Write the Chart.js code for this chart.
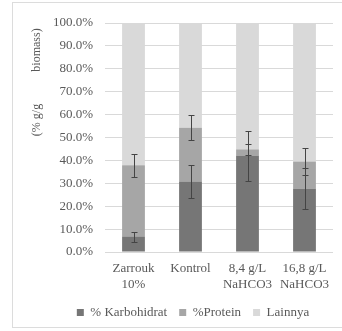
<!DOCTYPE html>
<html>
<head>
<meta charset="utf-8">
<script src="https://cdn.jsdelivr.net/npm/chart.js@4/dist/chart.umd.min.js"></script>
<style>
  html, body { margin: 0; padding: 0; background: #fff; }
  #wrap { position: relative; width: 342px; height: 331px; overflow: hidden; }
  #frame { position: absolute; left: 12px; top: 2px; width: 340px; height: 326px; border: 1px solid #dcdcdc; box-sizing: border-box; }
  #c { position: absolute; left: 0; top: 0; }
</style>
</head>
<body>
<div id="wrap">
  <div id="frame"></div>
  <canvas id="c" width="342" height="331"></canvas>
</div>
<script>
// Composition of biomass per medium (% g/g biomass)
const categories = [["Zarrouk", "10%"], ["Kontrol"], ["8,4 g/L", "NaHCO3"], ["16,8 g/L", "NaHCO3"]];
const karbohidrat = [6.6, 30.8, 42.0, 27.6];
const protein = [31.3, 23.5, 2.8, 11.9];
const lainnya = [62.1, 45.7, 55.2, 60.5];
const karbohidratErr = [2.2, 7.2, 11.0, 9.0];
const proteinErr = [5.0, 5.6, 2.5, 5.7];
const yTicks = [0, 10, 20, 30, 40, 50, 60, 70, 80, 90, 100];

const serif = "'Liberation Serif', 'Times New Roman', serif";
const textColor = "#595959";

// Error bars for the stacked carbohydrate and protein segments
const errorBars = {
  id: "errorBars",
  afterDatasetsDraw(chart) {
    const ctx = chart.ctx;
    const y = chart.scales.y;
    const meta = chart.getDatasetMeta(0);
    ctx.save();
    ctx.strokeStyle = "#444";
    ctx.lineWidth = 1;
    const cap = 3;
    const draw = (x, center, err) => {
      const yt = Math.round(y.getPixelForValue(center + err)) + 0.5;
      const yb = Math.round(y.getPixelForValue(center - err)) + 0.5;
      const xc = Math.round(x) + 0.5;
      ctx.beginPath();
      ctx.moveTo(xc, yt); ctx.lineTo(xc, yb);
      ctx.moveTo(xc - cap, yt); ctx.lineTo(xc + cap, yt);
      ctx.moveTo(xc - cap, yb); ctx.lineTo(xc + cap, yb);
      ctx.stroke();
    };
    meta.data.forEach((bar, i) => {
      draw(bar.x, karbohidrat[i], karbohidratErr[i]);
      draw(bar.x, karbohidrat[i] + protein[i], proteinErr[i]);
    });
    ctx.restore();
  }
};

// Rotated y-axis title
const yTitle = {
  id: "yTitle",
  afterDraw(chart) {
    const ctx = chart.ctx;
    const a = chart.chartArea;
    ctx.save();
    ctx.fillStyle = textColor;
    ctx.font = "12px " + serif;
    ctx.textAlign = "center";
    ctx.textBaseline = "middle";
    ctx.translate(37, 0);
    ctx.rotate(-Math.PI / 2);
    ctx.fillText("biomass)", -(a.top + 27), 0);
    ctx.fillText("(% g/g", -(a.top + 97), 0);
    ctx.restore();
  }
};

new Chart(document.getElementById("c"), {
  type: "bar",
  data: {
    labels: categories,
    datasets: [
      { label: "% Karbohidrat", data: karbohidrat, backgroundColor: "#767676" },
      { label: "%Protein", data: protein, backgroundColor: "#a6a6a6" },
      { label: "Lainnya", data: lainnya, backgroundColor: "#d9d9d9" }
    ]
  },
  options: {
    responsive: false,
    animation: false,
    devicePixelRatio: 1,
    layout: { padding: { left: 53, right: 9, top: 23, bottom: 2 } },
    datasets: { bar: { categoryPercentage: 1, barPercentage: 0.4 } },
    scales: {
      x: {
        stacked: true,
        grid: { display: false, drawTicks: false },
        border: { display: false },
        ticks: { color: textColor, padding: 9, font: { family: serif, size: 13, lineHeight: 1.2 }, maxRotation: 0, autoSkip: false },
        afterFit(s) { s.height = 42; }
      },
      y: {
        stacked: true,
        min: 0, max: 100,
        afterBuildTicks(s) { s.ticks = yTicks.map(v => ({ value: v })); },
        grid: { color: "#d9d9d9", drawTicks: false },
        border: { display: false },
        ticks: { color: textColor, padding: 12, font: { family: serif, size: 13 }, callback: v => v.toFixed(1) + "%" },
        afterFit(s) { s.width = 52; }
      }
    },
    plugins: {
      legend: {
        position: "bottom",
        labels: { boxWidth: 7, boxHeight: 7, padding: 12, color: textColor, font: { family: serif, size: 13 } }
      },
      tooltip: { enabled: false }
    }
  },
  plugins: [errorBars, yTitle]
});
</script>
</body>
</html>
